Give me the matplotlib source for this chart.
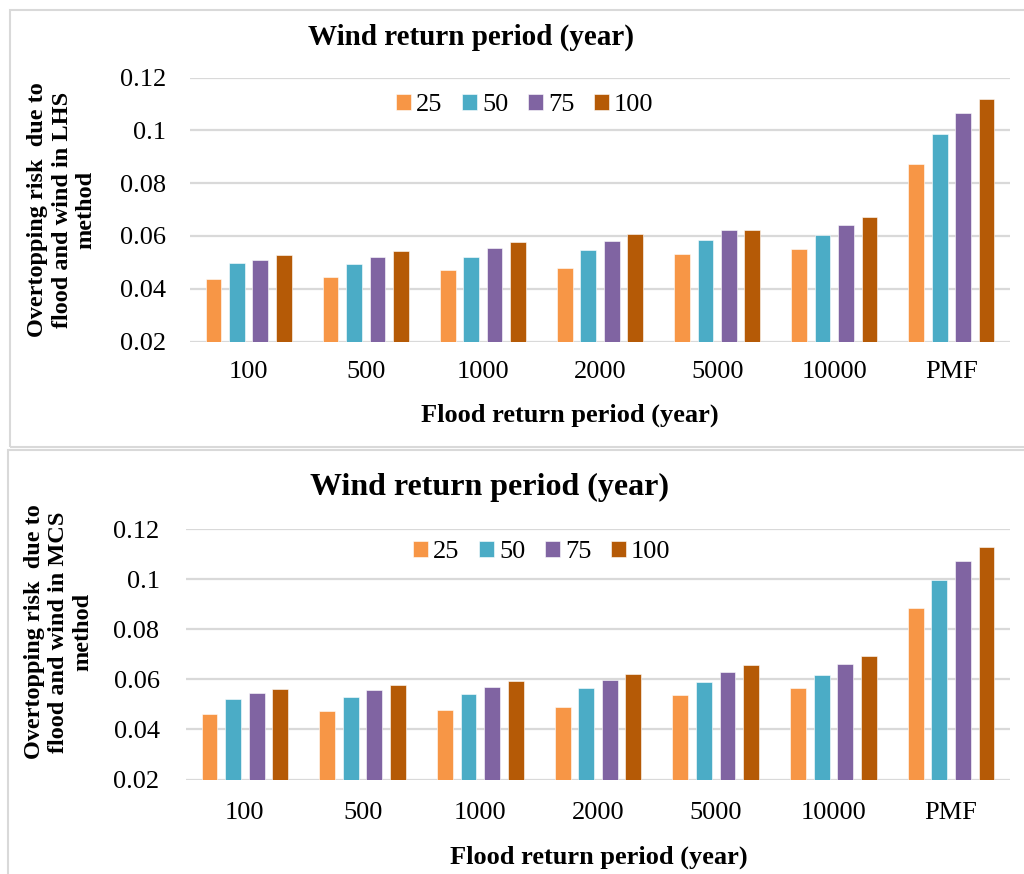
import matplotlib
matplotlib.use("Agg")
import matplotlib.pyplot as plt
import numpy as np
from matplotlib.patches import Rectangle

plt.rcParams["font.family"] = ["Liberation Serif", "DejaVu Serif"]

# Flood return period categories and wind return period series
floods = ["100", "500", "1000", "2000", "5000", "10000", "PMF"]
winds = ["25", "50", "75", "100"]
colors = ["#F79646", "#4BACC6", "#8064A2", "#B55A06"]

# LHS method (top panel)
lhs_25 = [0.0436, 0.0443, 0.0469, 0.0477, 0.0531, 0.0550, 0.0874]
lhs_50 = [0.0499, 0.0495, 0.0521, 0.0547, 0.0584, 0.0605, 0.0986]
lhs_75 = [0.0510, 0.0520, 0.0553, 0.0582, 0.0622, 0.0643, 0.1065]
lhs_100 = [0.0527, 0.0543, 0.0578, 0.0607, 0.0622, 0.0671, 0.1120]

# MCS method (bottom panel)
mcs_25 = [0.0463, 0.0474, 0.0479, 0.0491, 0.0538, 0.0566, 0.0884]
mcs_50 = [0.0521, 0.0528, 0.0542, 0.0564, 0.0591, 0.0619, 0.0996]
mcs_75 = [0.0545, 0.0557, 0.0571, 0.0598, 0.0630, 0.0662, 0.1075]
mcs_100 = [0.0561, 0.0577, 0.0595, 0.0622, 0.0658, 0.0692, 0.1131]

yticks = [0.02, 0.04, 0.06, 0.08, 0.1, 0.12]
ytick_labels = ["0.02", "0.04", "0.06", "0.08", "0.1", "0.12"]

W, H = 1024, 874
fig = plt.figure(figsize=(W / 100, H / 100), dpi=100)


def fx(px):
    return px / W


def fy(py):
    return 1 - py / H


def draw_panel(ax, series, leg_xy, ylab_pad, xlab_pad):
    x = np.arange(len(floods))
    pitch, width = 0.2, 0.135
    for i, (vals, c, lab) in enumerate(zip(series, colors, winds)):
        ax.bar(x + (i - 1.5) * pitch, vals, width, color=c, label=lab,
               edgecolor="white", linewidth=0.4, zorder=3)
    ax.set_ylim(0.02, 0.12)
    ax.set_xlim(-0.5, len(floods) - 0.5)
    ax.set_yticks(yticks)
    ax.set_yticklabels(ytick_labels)
    ax.set_xticks(x)
    ax.set_xticklabels(floods)
    ax.tick_params(length=0, labelsize=19)
    ax.tick_params(axis="y", pad=ylab_pad)
    ax.tick_params(axis="x", pad=xlab_pad)
    ax.grid(axis="y", color="#D9D9D9", linewidth=1.6, zorder=0)
    for s in ax.spines.values():
        s.set_visible(False)
    leg = ax.legend(loc="center", bbox_to_anchor=leg_xy, bbox_transform=fig.transFigure,
                    ncol=4, frameon=False, fontsize=19, handlelength=0.55,
                    handleheight=0.55, handletextpad=0.2, columnspacing=0.75)
    return leg


# panel borders
fig.patches.append(Rectangle((fx(10), fy(447)), fx(1030) - fx(10), fy(10) - fy(447),
                             transform=fig.transFigure, fill=False,
                             edgecolor="#D9D9D9", linewidth=1.5))
fig.patches.append(Rectangle((fx(8), fy(880)), fx(1030) - fx(8), fy(450) - fy(880),
                             transform=fig.transFigure, fill=False,
                             edgecolor="#D9D9D9", linewidth=1.5))

ax1 = fig.add_axes([fx(190), fy(341.5), fx(1010) - fx(190), fy(77.5) - fy(341.5)])
draw_panel(ax1, [lhs_25, lhs_50, lhs_75, lhs_100], (fx(525), fy(105)), 17, 14)
fig.text(fx(471), fy(37), "Wind return period (year)", ha="center", va="center",
         fontsize=21, fontweight="bold")
fig.text(fx(570), fy(415), "Flood return period (year)", ha="center", va="center",
         fontsize=19, fontweight="bold")
fig.text(fx(62), fy(210), "Overtopping risk  due to\nflood and wind in LHS\nmethod",
         ha="center", va="center", rotation=90, fontsize=17.5, fontweight="bold",
         linespacing=1.2)

ax2 = fig.add_axes([fx(186), fy(779.5), fx(1010) - fx(186), fy(529.3) - fy(779.5)])
draw_panel(ax2, [mcs_25, mcs_50, mcs_75, mcs_100], (fx(542), fy(552)), 19, 16)
fig.text(fx(490), fy(487), "Wind return period (year)", ha="center", va="center",
         fontsize=23, fontweight="bold")
fig.text(fx(599), fy(857), "Flood return period (year)", ha="center", va="center",
         fontsize=19, fontweight="bold")
fig.text(fx(59), fy(632), "Overtopping risk  due to\nflood and wind in MCS\nmethod",
         ha="center", va="center", rotation=90, fontsize=17.5, fontweight="bold",
         linespacing=1.2)

fig.savefig("out.png", dpi=100)
